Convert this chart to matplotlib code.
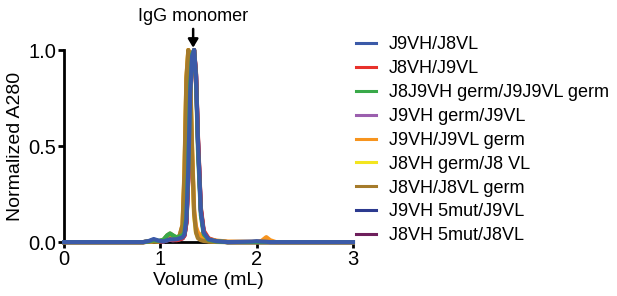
import matplotlib
matplotlib.use("Agg")
import matplotlib.pyplot as plt

plt.rcParams['font.family'] = ['Liberation Sans', 'DejaVu Sans']

labels = ["J9VH/J8VL", "J8VH/J9VL", "J8J9VH germ/J9J9VL germ", "J9VH germ/J9VL",
          "J9VH/J9VL germ", "J8VH germ/J8 VL", "J8VH/J8VL germ", "J9VH 5mut/J9VL",
          "J8VH 5mut/J8VL"]
colors = ["#3b5aa8", "#e8312b", "#39a949", "#9b5fae", "#f7941e", "#f3e51f",
          "#a57b2b", "#2c3a8f", "#6e1f5c"]

volume = [0.0, 0.82, 0.88, 0.93, 0.98, 1.03, 1.07, 1.10, 1.13, 1.17, 1.20, 1.23, 1.25, 1.27,
          1.29, 1.31, 1.33, 1.35, 1.37, 1.39, 1.42, 1.45, 1.50, 1.58, 1.70, 1.95, 2.00,
          2.05, 2.10, 2.14, 2.20, 3.0]

# normalized A280 for each construct, same order as labels
y_J9VH_J8VL = [0, 0, 0.006, 0.016, 0.008, 0.004, 0.01, 0.015, 0.014, 0.015, 0.02, 0.025, 0.04, 0.12,
               0.38, 0.78, 0.97, 1.00, 0.86, 0.52, 0.16, 0.05, 0.015, 0.005, 0, 0.003, 0.005,
               0.003, 0.002, 0, 0, 0]
y_J8VH_J9VL = [0, 0, 0.003, 0.008, 0.005, 0.004, 0.012, 0.016, 0.012, 0.01, 0.015, 0.02, 0.035, 0.1,
               0.33, 0.74, 0.96, 1.00, 0.88, 0.55, 0.18, 0.06, 0.02, 0.006, 0, 0, 0,
               0, 0, 0, 0, 0]
y_J8J9 = [0, 0, 0.004, 0.01, 0.006, 0.012, 0.035, 0.045, 0.035, 0.025, 0.03, 0.035, 0.05, 0.14,
          0.42, 0.82, 0.98, 1.00, 0.84, 0.48, 0.14, 0.04, 0.012, 0.004, 0, 0, 0,
          0, 0, 0, 0, 0]
y_J9VHgerm = [0, 0, 0.003, 0.008, 0.005, 0.004, 0.01, 0.012, 0.01, 0.012, 0.015, 0.02, 0.035, 0.11,
              0.36, 0.77, 0.97, 1.00, 0.86, 0.52, 0.16, 0.05, 0.015, 0.005, 0, 0, 0,
              0, 0, 0, 0, 0]
y_J9VLgerm = [0, 0, 0.002, 0.005, 0.004, 0.01, 0.03, 0.04, 0.03, 0.02, 0.035, 0.09, 0.38, 0.86,
              1.00, 0.86, 0.48, 0.17, 0.08, 0.05, 0.035, 0.025, 0.015, 0.008, 0.003, 0.002, 0.003,
              0.006, 0.026, 0.01, 0, 0]
y_J8VHgerm = [0, 0, 0.002, 0.005, 0.004, 0.008, 0.025, 0.03, 0.025, 0.015, 0.03, 0.08, 0.34, 0.84,
              1.00, 0.84, 0.44, 0.14, 0.05, 0.025, 0.015, 0.01, 0.005, 0.002, 0, 0, 0,
              0, 0, 0, 0, 0]
y_J8VLgerm = [0, 0, 0.002, 0.005, 0.004, 0.01, 0.035, 0.045, 0.035, 0.02, 0.035, 0.09, 0.36, 0.85,
              1.00, 0.85, 0.45, 0.15, 0.05, 0.02, 0.01, 0.006, 0.003, 0.001, 0, 0, 0,
              0, 0, 0, 0, 0]
y_J9VH5mut = [0, 0, 0.004, 0.012, 0.006, 0.004, 0.01, 0.013, 0.012, 0.013, 0.018, 0.022, 0.038, 0.11,
              0.36, 0.76, 0.96, 1.00, 0.87, 0.53, 0.17, 0.05, 0.015, 0.005, 0, 0, 0,
              0, 0, 0, 0, 0]
y_J8VH5mut = [0, 0, 0.003, 0.008, 0.005, 0.004, 0.01, 0.012, 0.01, 0.012, 0.015, 0.02, 0.035, 0.1,
              0.34, 0.75, 0.96, 1.00, 0.87, 0.54, 0.17, 0.05, 0.015, 0.005, 0, 0, 0,
              0, 0, 0, 0, 0]

series = [y_J9VH_J8VL, y_J8VH_J9VL, y_J8J9, y_J9VHgerm, y_J9VLgerm, y_J8VHgerm,
          y_J8VLgerm, y_J9VH5mut, y_J8VH5mut]

fig = plt.figure(figsize=(6.17, 2.96), dpi=100)
ax = fig.add_axes([0.104, 0.182, 0.468, 0.649])

order = [8, 7, 5, 3, 1, 4, 6, 2, 0]
handles = [None] * 9
for k, i in enumerate(order):
    h, = ax.plot(volume, series[i], color=colors[i], lw=3.0, clip_on=False,
                 solid_joinstyle='round', zorder=3 + k * 0.01)
    handles[i] = h

ax.set_xlim(0, 3)
ax.set_ylim(0, 1.0)
ax.set_xticks([0, 1, 2, 3])
ax.set_yticks([0, 0.5, 1.0])
ax.set_yticklabels(["0.0", "0.5", "1.0"])
for s in ["top", "right"]:
    ax.spines[s].set_visible(False)
for s in ["left", "bottom"]:
    ax.spines[s].set_linewidth(2.0)
    ax.spines[s].set_zorder(2)
ax.tick_params(width=2.0, length=4, labelsize=14.5, pad=1.5)
ax.set_xlabel("Volume (mL)", fontsize=14, labelpad=2)
ax.set_ylabel("Normalized A280", fontsize=14, labelpad=3)

ax.text(1.34, 1.175, "IgG monomer", ha="center", va="center", fontsize=13, clip_on=False)
ax.annotate("", xy=(1.34, 1.012), xytext=(1.34, 1.11), annotation_clip=False,
            arrowprops=dict(arrowstyle="-|>,head_length=0.5,head_width=0.3", color="black",
                            lw=1.8, shrinkA=0, shrinkB=0))

leg = fig.legend(handles, labels, loc="upper left", bbox_to_anchor=(0.551, 0.932),
                 frameon=False, fontsize=13, handlelength=1.1, handletextpad=0.7,
                 labelspacing=0.38)
for l in leg.get_lines():
    l.set_linewidth(2.2)

fig.savefig("out.png", dpi=100)
